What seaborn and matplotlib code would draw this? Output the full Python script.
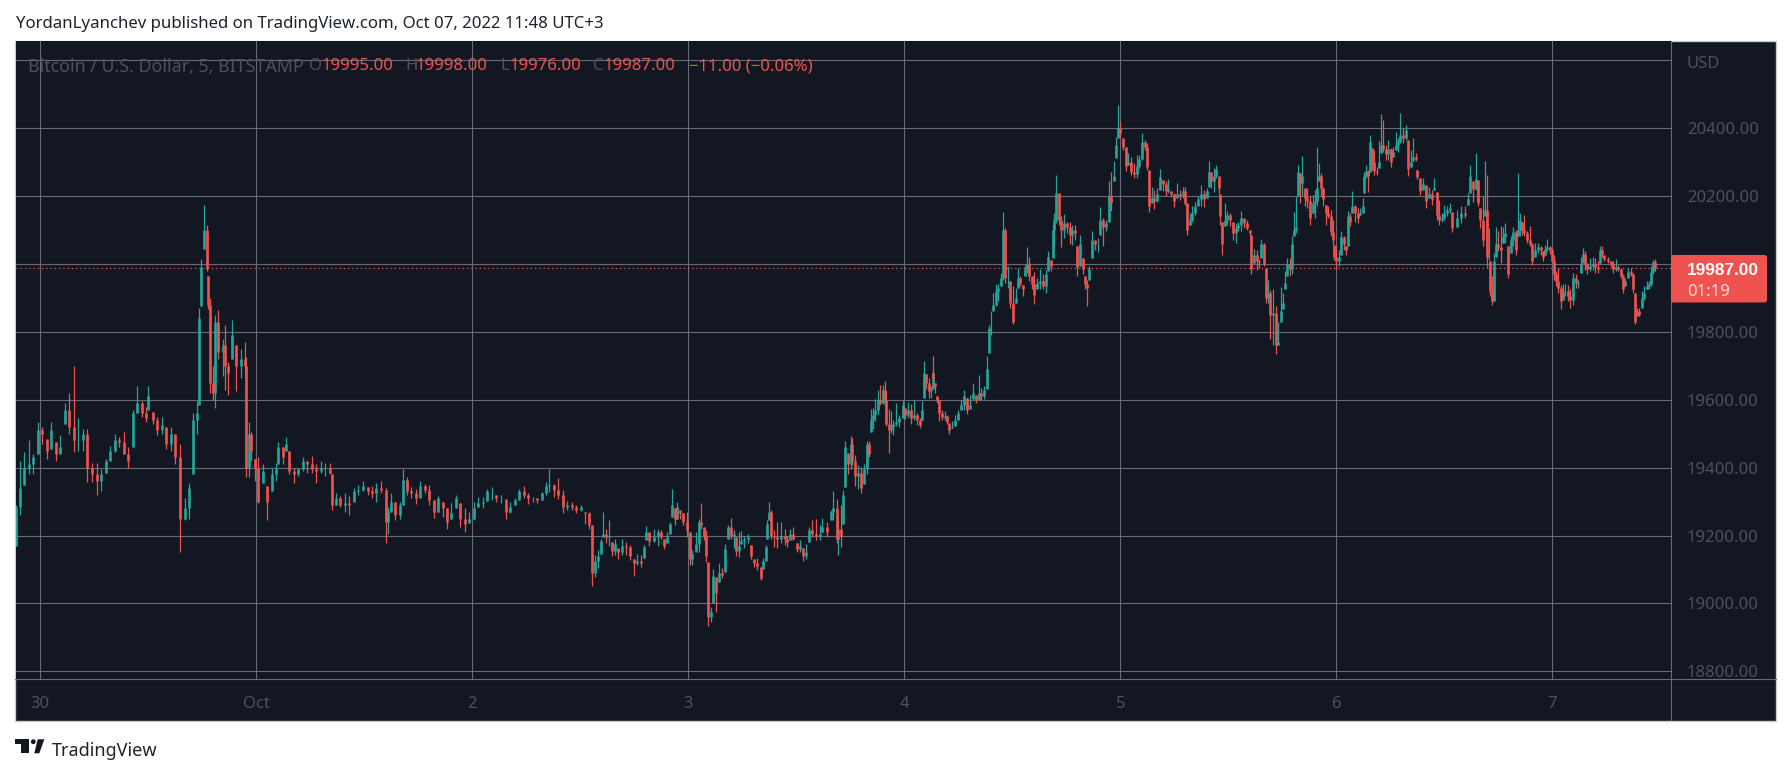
import numpy as np
import pandas as pd
import seaborn as sns
import matplotlib
matplotlib.use("Agg")
import matplotlib.pyplot as plt
from matplotlib.patches import Rectangle, FancyBboxPatch, Polygon, Circle
from matplotlib.lines import Line2D
from matplotlib.transforms import IdentityTransform

# ---- data: bars; time is in 1/27 h ticks after each block's start hour
start_a = -4.48
times_a = [48,60,73,87,100,114,127,141,154,168,181,195,208,222,235,249,262,276,290,303,
317,330,344,357,371,384,398,411,425,438,444,458,471,485,498,512,525,541,555,568,
578,590,596,604,612,622,623,631,640,646,654,668,676,685,695,709,722,735,739,746,
752,765,775,790,802,815,828,835,848,858,867,881,894,908,921,935,948]
highs_a = [19290,19420,19445,19480,19440,19535,19520,19485,19535,19475,
19495,19590,19620,19700,19545,19515,19515,19415,19415,19395,
19425,19465,19500,19490,19505,19460,19570,19640,19595,19580,
19640,19565,19550,19550,19520,19520,19500,19470,19310,19355,
19560,19595,19870,20015,20175,20115,19965,19900,19700,19850,
19865,19780,19820,19710,19835,19760,19750,19770,19725,19535,
19505,19425,19430,19410,19345,19400,19415,19475,19460,19490,
19450,19400,19400,19430,19420,19435,19410]
lows_a = [19170,19260,19350,19380,19380,19440,19470,19425,19455,19420,
19440,19530,19500,19445,19450,19450,19357,19357,19320,19330,
19385,19420,19445,19460,19440,19400,19460,19560,19550,19535,
19570,19530,19495,19500,19455,19450,19410,19150,19245,19250,
19380,19500,19585,19877,20045,19980,19867,19620,19600,19575,
19720,19670,19630,19615,19720,19625,19665,19680,19372,19372,
19420,19360,19295,19355,19245,19330,19360,19410,19410,19450,
19380,19355,19375,19390,19385,19385,19355]
closes_a = [19285,19340,19400,19410,19430,19510,19500,19450,19510,19440,
19460,19570,19520,19480,19480,19500,19400,19380,19360,19380,
19420,19450,19480,19475,19440,19420,19560,19590,19560,19545,
19610,19540,19510,19525,19470,19500,19430,19250,19280,19340,
19540,19560,19840,19990,20100,19985,19880,19650,19620,19830,
19740,19760,19700,19680,19790,19700,19720,19700,19400,19500,
19450,19400,19300,19390,19300,19380,19395,19460,19430,19470,
19390,19380,19395,19420,19410,19395,19390]

start_b = 28.86
times_b = [62,76,90,97,108,121,135,148,162,175,
189,203,216,229,243,257,265,272,285,299,
310,320,333,347,360,374,388,401,415,428,
440,454,468,481,494,508,521,535,549,562,
575,589,603,617,630,644,658,671,685,698,
712,725,739,748,762,775,788,801,815,828,
842,856,868]
highs_b = [19420,19415,19415,19380,19325,19315,19325,19315,19340,19350,
19362,19343,19345,19355,19360,19340,19285,19325,19300,19300,
19397,19372,19343,19338,19362,19352,19350,19304,19316,19300,
19280,19295,19318,19295,19280,19270,19300,19314,19314,19338,
19343,19318,19318,19308,19300,19312,19338,19345,19324,19314,
19312,19328,19358,19395,19353,19368,19333,19302,19300,19290,
19290,19270,19270]
lows_b = [19385,19375,19380,19275,19290,19285,19270,19260,19300,19320,
19330,19320,19310,19300,19325,19178,19205,19270,19245,19250,
19290,19320,19310,19292,19310,19325,19290,19253,19270,19255,
19220,19250,19280,19225,19210,19237,19245,19284,19280,19302,
19304,19298,19296,19250,19265,19290,19306,19310,19294,19299,
19296,19306,19319,19328,19314,19309,19265,19275,19275,19265,
19273,19235,19220]
closes_b = [19400,19400,19385,19290,19310,19290,19295,19290,19330,19335,
19345,19330,19325,19340,19335,19240,19270,19300,19260,19290,
19365,19330,19325,19310,19345,19335,19305,19270,19310,19280,
19240,19265,19310,19250,19235,19250,19280,19295,19300,19330,
19330,19310,19312,19270,19285,19305,19330,19320,19310,19310,
19305,19325,19345,19350,19335,19320,19285,19290,19285,19275,
19285,19265,19230]

start_c = 58.86
times_c = [66,76,85,94,98,108,117,126,135,145,
155,168,180,191,200,212,222,229,238,251,
264,273,283,292,301,306,314,321,331,340,
352,360,367,379,388,392,401,409,415,424,
428,437,447,456,464,473,482,491,498,508,
514,523,533,543,553,562,573,580,587,592,
597,604,612,622,632,645,652,660,670,680,
690,698,708,717,727,737,750,757,770,782,
790,800,805,812,820,826]
highs_c = [19230,19142,19157,19190,19268,19220,19245,19180,19190,19162,
19190,19180,19172,19130,19147,19142,19172,19228,19210,19220,
19220,19216,19190,19210,19240,19336,19280,19300,19275,19265,
19270,19210,19157,19210,19250,19297,19225,19216,19122,18990,
19100,19078,19120,19103,19175,19230,19253,19216,19196,19210,
19213,19200,19204,19172,19132,19134,19108,19134,19172,19245,
19300,19275,19216,19240,19240,19218,19200,19218,19224,19178,
19186,19162,19176,19225,19245,19248,19230,19253,19240,19275,
19330,19308,19253,19290,19335,19392]
lows_c = [19050,19078,19103,19147,19196,19178,19170,19140,19142,19132,
19142,19142,19127,19080,19113,19108,19135,19186,19168,19180,
19168,19190,19160,19178,19205,19255,19230,19250,19250,19230,
19196,19113,19113,19152,19152,19220,19186,19122,18934,18945,
19000,18975,19064,19074,19093,19191,19191,19162,19140,19137,
19176,19162,19178,19130,19108,19098,19069,19100,19125,19191,
19245,19191,19167,19162,19177,19172,19165,19186,19186,19152,
19152,19125,19130,19181,19196,19186,19188,19210,19196,19245,
19245,19178,19142,19167,19235,19342]
closes_c = [19090,19125,19140,19185,19205,19195,19200,19155,19175,19150,
19170,19165,19140,19120,19125,19120,19165,19210,19185,19195,
19210,19195,19170,19195,19235,19290,19250,19285,19265,19240,
19215,19130,19145,19175,19240,19230,19200,19140,18960,18975,
19080,19030,19090,19085,19160,19225,19200,19205,19155,19170,
19185,19190,19195,19140,19120,19110,19075,19125,19165,19235,
19270,19200,19195,19190,19200,19190,19180,19205,19190,19160,
19170,19140,19150,19215,19205,19200,19205,19225,19210,19270,
19280,19190,19220,19200,19320,19380]

start_d = 86.63
times_d = [75,84,93,97,106,115,124,131,140,147,
152,158,165,173,180,188,196,199,206,212,
220,229,237,248,256,265,274,283,292,301,
307,312,318,326,333,338,340,346,352,357,
365,374,382,386,396,405,414,423,432,441,
450,458,468,476,484,493,502]
highs_d = [19477,19442,19492,19487,19437,19407,19402,19412,19477,19477,
19572,19577,19602,19630,19642,19642,19655,19622,19572,19567,
19541,19589,19556,19598,19576,19593,19586,19598,19561,19546,
19596,19715,19675,19665,19640,19692,19728,19650,19610,19600,
19571,19566,19556,19531,19536,19556,19571,19598,19628,19605,
19615,19648,19615,19672,19636,19641,19728]
lows_d = [19377,19382,19397,19407,19347,19337,19324,19352,19382,19430,
19505,19515,19537,19557,19585,19587,19582,19522,19444,19502,
19497,19522,19520,19546,19543,19546,19529,19541,19526,19516,
19541,19606,19631,19606,19606,19631,19651,19621,19590,19536,
19541,19541,19529,19500,19516,19523,19541,19569,19569,19559,
19573,19601,19590,19599,19599,19601,19631]
closes_d = [19460,19410,19470,19420,19375,19385,19340,19395,19470,19440,
19540,19555,19570,19600,19590,19630,19600,19530,19510,19520,
19530,19535,19545,19585,19555,19570,19545,19555,19540,19525,
19570,19680,19650,19625,19630,19680,19660,19640,19600,19560,
19550,19552,19535,19510,19520,19540,19560,19585,19610,19570,
19585,19620,19600,19620,19610,19630,19690]

start_e = 76.63
times_e = [778,783,790,799,805,813,820,826,835,840,850,858,864,871,878,884,892,897]
highs_e = [19820,19860,19915,19942,19940,19973,20153,20105,19995,19949,19934,19930,19988,19964,19939,19998,20050,20022]
lows_e = [19738,19792,19860,19875,19890,19934,19954,19944,19930,19870,19822,19885,19930,19934,19905,19964,19973,19949]
closes_e = [19810,19810,19880,19920,19930,19960,20100,19960,19960,19885,19830,19900,19960,19945,19925,19985,20000,19965]

start_f = 109.97
times_f = [5,13,22,31,40,48,55,62,69,73,
79,86,93,102,110,119,127,135,142,150,
158,166,170,178,186,194,203,211,220,229,
238,243,252,258,264,270,279,287,295,303,
312,320,328,336,344,352,357,365,373,382,
389,398,407,415,424,432,441,450,458,466,
470,479,487,495,505,513,521,530,536,543,
552,558,566,571,576,584,592,600,608,618,
625,634,643,651,659,664,672,680,688,694,
701,707,715,720,728,737,745,753,760,766,
772,780,785,792,797,803,811,817,825,832,
840,848,856,862,866,872,880,887,895,902,
909,913,918,926,934,942,949,954,960,967,
975,983,990,998,1002,1008,1015,1020,1026,1033,
1040,1047,1053,1060,1067,1075,1082,1089,1097,1103,
1110,1118,1127,1135,1142,1150,1157,1162,1170,1178,
1188,1196,1205,1213,1221,1227,1235,1243,1252,1260,
1267,1280]
highs_f = [19966,19975,19959,19985,19969,19983,20037,20013,20115,20150,
20262,20209,20140,20148,20125,20125,20116,20116,20052,20086,
20018,19964,19954,19993,20098,20072,20076,20168,20135,20130,
20243,20272,20302,20375,20468,20420,20370,20346,20326,20316,
20297,20321,20321,20385,20366,20356,20277,20228,20218,20223,
20279,20248,20243,20250,20214,20209,20238,20218,20226,20228,
20180,20150,20170,20184,20199,20233,20218,20223,20302,20272,
20282,20292,20258,20207,20125,20181,20155,20150,20125,20120,
20125,20155,20135,20130,20101,20086,20044,20042,20015,20073,
20062,19988,19954,19924,19925,19876,19830,19932,19915,19978,
20018,20018,20081,20153,20199,20292,20268,20318,20223,20223,
20199,20204,20218,20346,20297,20268,20228,20174,20170,20160,
20130,20057,20052,20042,20096,20081,20052,20155,20150,20214,
20174,20164,20164,20194,20272,20292,20277,20380,20341,20336,
20287,20361,20442,20424,20351,20366,20341,20346,20390,20370,
20446,20400,20410,20366,20336,20370,20328,20277,20253,20253,
20233,20228,20218,20253,20213,20189,20150,20174,20170,20179,
20152,20160]
lows_f = [19925,19882,19926,19925,19925,19915,19978,19978,20018,20053,
20120,20116,20050,20076,20091,20060,20057,20071,19966,19993,
19969,19925,19877,19954,20018,20042,20034,20086,20054,20096,
20125,20155,20243,20312,20370,20370,20336,20275,20292,20263,
20253,20253,20282,20307,20336,20277,20152,20180,20162,20184,
20218,20214,20199,20209,20197,20168,20194,20189,20194,20174,
20084,20116,20125,20145,20170,20170,20168,20194,20228,20223,
20213,20253,20207,20116,20025,20111,20116,20113,20071,20062,
20096,20096,20106,20101,20083,19970,20003,19983,19988,20018,
19993,19885,19885,19780,19760,19736,19760,19830,19868,19925,
19964,19966,19969,20081,20091,20199,20180,20199,20170,20165,
20116,20150,20135,20170,20243,20199,20170,20116,20135,20081,
20057,20013,19985,19995,20027,20042,20025,20052,20111,20150,
20125,20120,20145,20150,20209,20253,20211,20272,20277,20263,
20263,20282,20326,20331,20307,20307,20285,20316,20336,20331,
20356,20356,20366,20260,20287,20302,20302,20250,20204,20218,
20165,20194,20174,20218,20130,20116,20125,20130,20140,20150,
20093,20110]
closes_f = [19940,19910,19945,19950,19935,19970,20020,19995,20100,20130,
20210,20130,20100,20120,20110,20085,20100,20090,19990,20060,
19985,19940,19930,19985,20070,20060,20060,20130,20110,20120,
20200,20180,20260,20350,20400,20385,20345,20290,20300,20270,
20265,20290,20310,20360,20345,20285,20170,20195,20185,20205,
20255,20235,20215,20220,20205,20185,20205,20200,20215,20180,
20100,20130,20150,20170,20190,20205,20190,20215,20270,20245,
20260,20280,20225,20140,20060,20130,20145,20130,20090,20105,
20115,20135,20120,20105,20090,19985,20025,20010,20005,20060,
20000,19900,19915,19850,19855,19760,19770,19860,19885,19945,
20000,19985,20060,20100,20110,20270,20240,20260,20195,20185,
20135,20180,20185,20225,20260,20225,20190,20150,20140,20095,
20070,20020,20010,20020,20080,20060,20040,20140,20125,20170,
20150,20135,20150,20170,20260,20275,20260,20360,20300,20275,
20270,20300,20350,20340,20325,20340,20300,20330,20350,20360,
20380,20370,20395,20280,20300,20315,20310,20255,20215,20235,
20185,20205,20190,20225,20145,20130,20135,20150,20160,20165,
20105,20135]

start_g = 139.97
times_g = [484,495,503,511,520,527,535,541,549,556,
562,567,570,575,582,588,595,602,609,616,
624,632,640,648,655,660,667,673,680,690,
697,705,713,722,729,736,742,750,757,762,
768,775,782,789,796,803,809,820,828,835,
842,849,855,862,870,878,885,893,900,906,
913,925,932,940,948,955,962,968,975,985,
993,1000,1006,1012,1018,1025,1033,1041,1048,1053,
1060,1066]
highs_g = [20170,20170,20209,20292,20243,20326,20248,20165,20199,20304,
20263,20106,20010,19964,20032,20109,20096,20111,20109,20120,
20052,20081,20109,20101,20268,20150,20125,20145,20096,20111,
20062,20062,20062,20052,20037,20057,20073,20052,20047,20027,
19978,19988,19939,19942,19942,19939,19925,19974,19969,19954,
20022,20047,20037,20003,20018,20022,20018,20008,20052,20052,
20027,20020,20008,20008,20015,19998,19988,19969,19959,19988,
19988,19974,19915,19870,19870,19920,19934,19949,19949,19993,
20013,20015]
lows_g = [20122,20135,20174,20209,20184,20218,20170,20106,20052,20140,
19990,20013,19905,19880,19890,20022,20037,20003,20062,20062,
19959,20032,20052,20027,20081,20081,20086,20081,20062,20052,
19998,20022,20032,20027,20008,20027,20037,20030,20003,19954,
19934,19915,19866,19895,19905,19890,19870,19878,19929,19929,
19974,20003,19983,19969,19978,19983,19974,19974,20003,20022,
20008,20003,19991,19974,19978,19978,19959,19915,19934,19959,
19964,19915,19822,19846,19846,19870,19895,19925,19925,19934,
19969,19978]
closes_g = [20150,20145,20190,20260,20220,20250,20180,20130,20070,20160,
20020,20020,19920,19890,20010,20060,20050,20040,20080,20090,
19970,20070,20095,20040,20100,20130,20100,20090,20070,20060,
20010,20040,20050,20040,20020,20045,20050,20040,20010,19970,
19950,19930,19890,19920,19920,19905,19895,19960,19945,19945,
20000,20030,20000,19985,19995,20000,19990,19985,20040,20030,
20015,20010,20000,19985,19990,19985,19965,19925,19950,19975,
19970,19925,19830,19860,19850,19900,19915,19935,19940,19975,
20005,19987]

price_ticks = [18800,19000,19200,19400,19600,19800,20000,20200,20400,20600]
price_labels = ['18800.00','19000.00','19200.00','19400.00','19600.00','19800.00','','20200.00','20400.00','']
day_hours = [0,24,48,72,96,120,144,168]
day_labels = ['30','Oct','2','3','4','5','6','7']
last_price = 19987

# ---- table
blocks = [(start_a,times_a,highs_a,lows_a,closes_a),(start_b,times_b,highs_b,lows_b,closes_b),
          (start_c,times_c,highs_c,lows_c,closes_c),(start_d,times_d,highs_d,lows_d,closes_d),
          (start_e,times_e,highs_e,lows_e,closes_e),(start_f,times_f,highs_f,lows_f,closes_f),
          (start_g,times_g,highs_g,lows_g,closes_g)]
bars = pd.concat([pd.DataFrame({'hour':s+np.array(t)/27,'high':h,'low':l,'close':c}) for s,t,h,l,c in blocks],ignore_index=True)
bars['open'] = bars['close'].shift(1).fillna(bars['low'])
bars['open'] = bars['open'].clip(bars['low'],bars['high'])
bars['side'] = np.where(bars['close']<bars['open'],'down','up')
bars['bar'] = bars.index
wicks = bars.melt(id_vars=['bar','hour','side'],value_vars=['low','high'],value_name='price')
bodies = bars.melt(id_vars=['bar','hour','side'],value_vars=['open','close'],value_name='price')

# ---- figure
W,H = 1791,774
BG='#131722'; GRID='#686b76'; DIM='#4e515c'; RED='#ef5350'; TEAL='#26a69a'
sns.set_style('dark')
plt.rcParams['font.family'] = ['Noto Sans','DejaVu Sans']
plt.rcParams['axes.unicode_minus'] = False
fig = plt.figure(figsize=(W/100,H/100),dpi=100,facecolor='white')
def fx(x): return x/W
def fy(y): return 1-y/H
L,R,T,B = 15.5,1671,41,679
ax = fig.add_axes([fx(L),fy(B),fx(R)-fx(L),fy(T)-fy(B)],facecolor=BG)
fig.add_artist(Rectangle((fx(15),fy(720.5)),fx(1776)-fx(15),fy(40.5)-fy(720.5),transform=fig.transFigure,
                         facecolor=BG,edgecolor='#c9ccd3',lw=1,zorder=-1))
pal={'up':TEAL,'down':RED}
sns.lineplot(data=wicks,x='hour',y='price',units='bar',estimator=None,hue='side',palette=pal,legend=False,
             sort=False,lw=0.9,ax=ax,solid_capstyle='butt',zorder=3)
sns.lineplot(data=bodies,x='hour',y='price',units='bar',estimator=None,hue='side',palette=pal,legend=False,
             sort=False,lw=1.9,ax=ax,solid_capstyle='butt',zorder=3)
ax.set_xlim(-2.756,181.19)
ax.set_ylim(18777.3,20656.9)
ax.set_xticks(day_hours); ax.set_xticklabels(day_labels)
ax.set_yticks(price_ticks); ax.set_yticklabels(price_labels)
ax.yaxis.tick_right()
ax.tick_params(axis='both',length=0,labelcolor=DIM,labelsize=12)
ax.tick_params(axis='y',pad=11.5)
ax.tick_params(axis='x',pad=12.5)
ax.grid(True,color=GRID,lw=0.8,zorder=1)
ax.set_axisbelow(True)
ax.set_xlabel(''); ax.set_ylabel('')
for s in ax.spines.values(): s.set_visible(False)
for lab in ax.get_yticklabels():
    lab.set_ha('left'); lab.set_va('center_baseline')
ax.axhline(last_price,color=RED,lw=0.9,ls=(0,(1,2.4)),zorder=2)

# panel separators
fig.add_artist(Line2D([fx(15),fx(1776)],[fy(679),fy(679)],color=GRID,lw=0.8,transform=fig.transFigure))
fig.add_artist(Line2D([fx(1671),fx(1671)],[fy(41),fy(720)],color=GRID,lw=0.8,transform=fig.transFigure))

# header and legend texts
def t(x,y,s,color=DIM,size=12,weight='normal',va='center'):
    fig.text(fx(x),fy(y),s,color=color,fontsize=size,fontweight=weight,ha='left',va=va)
t(16,24,'YordanLyanchev published on TradingView.com, Oct 07, 2022 11:48 UTC+3',color='#1e222d',size=12.1)
t(27.7,66.5,'Bitcoin / U.S. Dollar, 5, BITSTAMP',size=12.8)
for x,s,c in [(308.6,'O',DIM),(321.5,'19995.00',RED),(405.7,'H',DIM),(416,'19998.00',RED),(500,'L',DIM),(510,'19976.00',RED),
              (593,'C',DIM),(604,'19987.00',RED),(689,'\u221211.00 (\u22120.06%)',RED)]:
    t(x,66.5,s,color=c)
t(1687,63.5,'USD')

# last price box
idt=IdentityTransform()
fig.add_artist(FancyBboxPatch((1671,H-302.5),96,47.5,boxstyle='round,pad=0,rounding_size=2.5',transform=idt,
                              facecolor=RED,edgecolor='none',zorder=4))
fig.text(fx(1687),fy(270.5),'19987.00',color='white',fontsize=12.4,fontweight='bold',family='Liberation Sans',ha='left',va='center',zorder=5)
fig.text(fx(1687),fy(292),'01:19',color='#fbdcdb',fontsize=12,ha='left',va='center',zorder=5)

# brand mark
INK='#131722'
fig.add_artist(Polygon([(15.3,H-739.3),(29,H-739.3),(29,H-753.3),(20.7,H-753.3),(20.7,H-744),(15.3,H-744)],closed=True,
                       transform=idt,facecolor=INK,edgecolor='none'))
fig.add_artist(Circle((33.3,H-741.7),2.4,transform=idt,facecolor=INK,edgecolor='none'))
fig.add_artist(Polygon([(37.7,H-739.3),(44.3,H-739.3),(39.3,H-753.3),(34.3,H-753.3)],closed=True,
                       transform=idt,facecolor=INK,edgecolor='none'))
t(51.5,751,'TradingView',color='#1e222d',size=13)

fig.savefig('out.png',dpi=100,facecolor='white')
